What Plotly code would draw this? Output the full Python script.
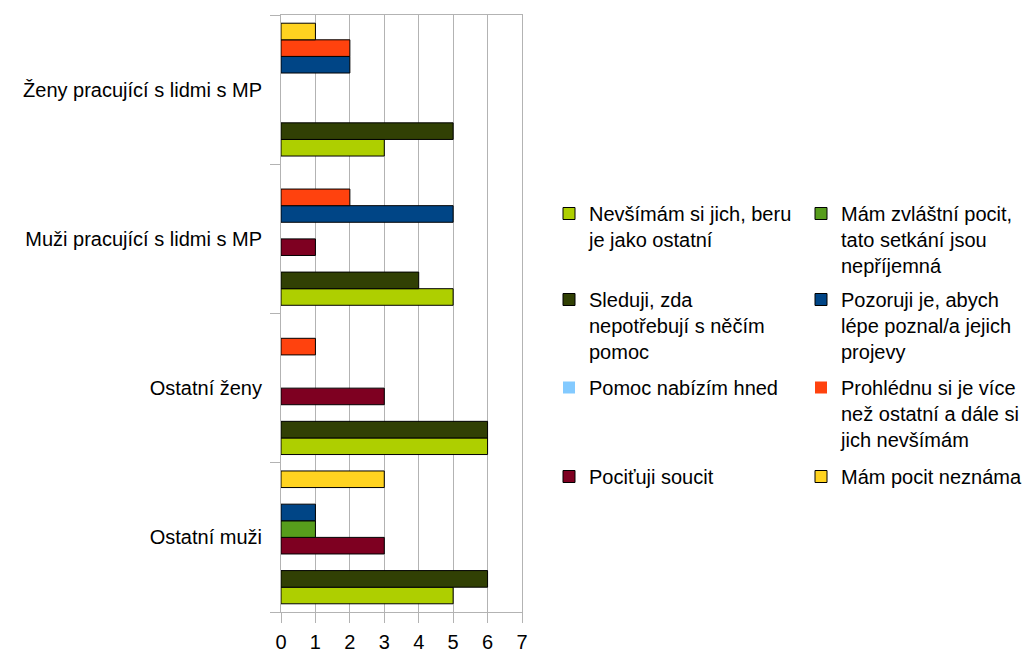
import plotly.graph_objects as go

# Respondent groups (bottom to top on the category axis)
groups = ["Ostatní muži", "Ostatní ženy", "Muži pracující s lidmi s MP", "Ženy pracující s lidmi s MP"]

# Answer options, in drawing order within each group (bottom to top)
answers = [
    "Nevšímám si jich, beru<br>je jako ostatní",
    "Sleduji, zda<br>nepotřebují s něčím<br>pomoc",
    "Pomoc nabízím hned",
    "Pociťuji soucit",
    "Mám zvláštní pocit,<br>tato setkání jsou<br>nepříjemná",
    "Pozoruji je, abych<br>lépe poznal/a jejich<br>projevy",
    "Prohlédnu si je více<br>než ostatní a dále si<br>jich nevšímám",
    "Mám pocit neznáma",
]

# Counts per answer, ordered like `groups`
nevsimam = [5, 6, 5, 3]
sleduji = [6, 6, 4, 5]
pomoc_hned = [0, 0, 0, 0]
soucit = [3, 3, 1, 0]
zvlastni = [1, 0, 0, 0]
pozoruji = [1, 0, 5, 2]
prohlednu = [0, 1, 2, 2]
neznama = [3, 0, 0, 1]

series = [nevsimam, sleduji, pomoc_hned, soucit, zvlastni, pozoruji, prohlednu, neznama]
colors = ["#aecf00", "#314004", "#83caff", "#7e0021", "#579d1c", "#004586", "#ff420e", "#ffd320"]

W, H = 1034, 655
plot_left, plot_right, plot_top, plot_bottom = 281, 522, 15, 612
font_family = "Liberation Sans, Arial, sans-serif"
font_size = 20

fig = go.Figure()
legend_layouts = {}
col_x = [549, 801]
row_top = [194, 280, 368, 457]

for i, (name, vals, col) in enumerate(zip(answers, series, colors)):
    key = "legend" if i == 0 else f"legend{i + 1}"
    fig.add_trace(go.Bar(
        y=groups, x=vals, name=name, orientation="h",
        # no outline on empty bars so nothing is drawn at zero
        marker=dict(color=col, line=dict(color="#000000",
                                         width=[1 if v else 0 for v in vals])),
        legend=key, showlegend=True,
    ))
    c, r = divmod(i, 4)
    legend_layouts[key] = dict(
        x=(col_x[c] - plot_left) / (plot_right - plot_left),
        y=(plot_bottom - row_top[r]) / (plot_bottom - plot_top),
        xanchor="left", yanchor="top",
        bgcolor="rgba(0,0,0,0)", borderwidth=0,
        valign="top", visible=True,
        font=dict(family=font_family, size=font_size, color="#000000"),
    )

axis_grey = "#b3b3b3"
fig.update_layout(
    width=W, height=H,
    margin=dict(l=plot_left, r=W - plot_right, t=plot_top, b=H - plot_bottom,
                pad=0, autoexpand=False),
    paper_bgcolor="white", plot_bgcolor="white",
    barmode="group", bargap=0.11, bargroupgap=0,
    showlegend=True,
    font=dict(family=font_family, size=font_size, color="#000000"),
    **legend_layouts,
)
fig.update_xaxes(
    range=[0, 7], dtick=1, tick0=0,
    showgrid=True, gridcolor=axis_grey, gridwidth=1,
    showline=True, linecolor=axis_grey, linewidth=1, mirror=True,
    ticks="outside", ticklen=10, tickcolor=axis_grey,
    ticklabelstandoff=2, automargin=False,
    zeroline=False,
)
fig.update_yaxes(
    type="category", categoryorder="array", categoryarray=groups,
    showgrid=False,
    showline=True, linecolor=axis_grey, linewidth=1, mirror=True,
    ticks="outside", ticklen=10, tickcolor=axis_grey, tickson="boundaries",
    ticklabelstandoff=14, automargin=False,
)

fig.write_html("out.html")
